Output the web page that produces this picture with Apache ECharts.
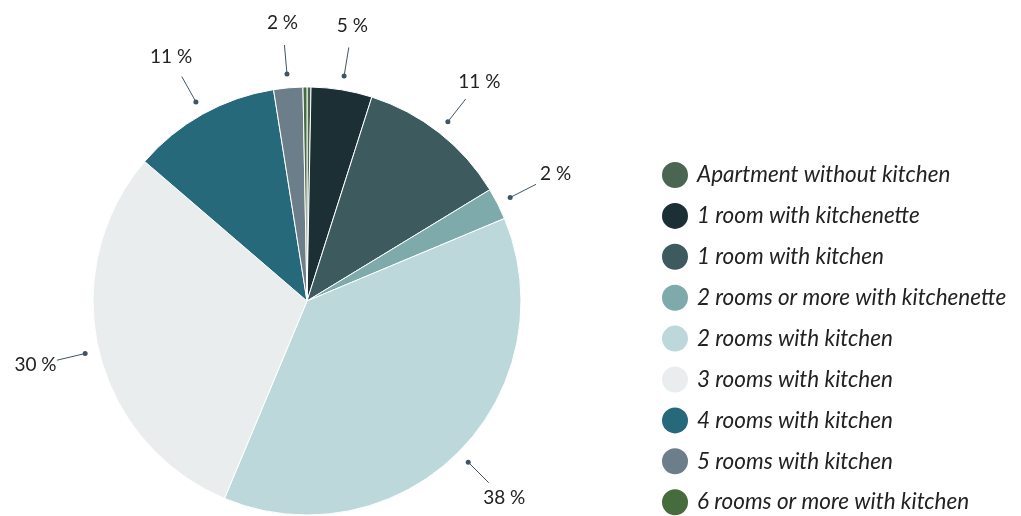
<!DOCTYPE html>
<html>
<head>
<meta charset="utf-8">
<script src="https://cdn.jsdelivr.net/npm/echarts@6/dist/echarts.min.js"></script>
<style>
  html, body { margin: 0; padding: 0; background: #fff; }
  #chart { width: 1021px; height: 516px; }
</style>
</head>
<body>
<div id="chart"></div>
<script>
// dwelling types, share in percent
var categories = [
  'Apartment without kitchen',
  '1 room with kitchenette',
  '1 room with kitchen',
  '2 rooms or more with kitchenette',
  '2 rooms with kitchen',
  '3 rooms with kitchen',
  '4 rooms with kitchen',
  '5 rooms with kitchen',
  '6 rooms or more with kitchen'
];
var shares = [0.3, 4.6, 11.4, 2.4, 37.6, 30.0, 11.2, 2.2, 0.3];
var colors = ['#4a6551', '#1c2f35', '#3d5b5f', '#7eaaab', '#bdd8da', '#eaedee', '#26697a', '#6b7e89', '#466b3c'];

var center = [307, 301];
var R = 214;
var FONT = 'Lato, "Noto Sans", sans-serif';

var pieData = categories.map(function (c, i) {
  return { name: c, value: shares[i], itemStyle: { color: colors[i] } };
});
var ghostData = categories.map(function (c, i) {
  return { name: c, value: shares[i] };
});

// mid angle of each slice (cumulative percent) for the leader lines
var total = shares.reduce(function (a, b) { return a + b; }, 0);
var leaders = [];
var acc = 0;
shares.forEach(function (v) {
  var p = v / total * 100;
  if (p * 3.6 >= 5) leaders.push([R + 14, acc + p / 2]);
  acc += p;
});

var chart = echarts.init(document.getElementById('chart'));
chart.setOption({
  animation: false,
  legend: {
    orient: 'vertical',
    left: 660,
    top: 160,
    height: 420,
    padding: 0,
    itemWidth: 28,
    itemHeight: 28,
    itemGap: 10.9,
    icon: 'circle',
    data: categories,
    textStyle: {
      fontFamily: FONT,
      fontStyle: 'italic',
      fontSize: 22.5,
      color: '#222',
      padding: [0, 0, 0, 3]
    }
  },
  polar: { center: center, radius: 300 },
  angleAxis: { type: 'value', min: 0, max: 100, startAngle: 90, clockwise: true, show: false },
  radiusAxis: { type: 'value', min: 0, max: 300, show: false },
  series: [
    {
      name: 'share',
      type: 'pie',
      center: center,
      radius: R,
      startAngle: 90,
      clockwise: true,
      silent: true,
      data: pieData,
      itemStyle: { borderColor: '#fff', borderWidth: 1 },
      label: { show: false },
      labelLine: { show: false }
    },
    {
      // percent labels
      type: 'pie',
      center: center,
      radius: [R + 52, R + 72],
      startAngle: 90,
      clockwise: true,
      silent: true,
      legendHoverLink: false,
      data: ghostData,
      itemStyle: { color: 'transparent' },
      minShowLabelAngle: 5,
      label: {
        show: true,
        position: 'inside',
        fontFamily: FONT,
        fontSize: 19,
        color: '#222',
        formatter: function (p) { return Math.round(p.percent) + ' %'; }
      },
      labelLine: { show: false }
    },
    {
      // leader lines with a dot at the pie end
      type: 'custom',
      coordinateSystem: 'polar',
      silent: true,
      data: leaders,
      renderItem: function (params, api) {
        var r = api.value(0), a = api.value(1);
        var p0 = api.coord([r, a]);
        var p1 = api.coord([r + 29, a]);
        return {
          type: 'group',
          children: [
            { type: 'line', shape: { x1: p0[0], y1: p0[1], x2: p1[0], y2: p1[1] },
              style: { stroke: '#3d5566', lineWidth: 1 } },
            { type: 'circle', shape: { cx: p0[0], cy: p0[1], r: 2.5 },
              style: { fill: '#3d5566' } }
          ]
        };
      }
    }
  ]
});
</script>
</body>
</html>
